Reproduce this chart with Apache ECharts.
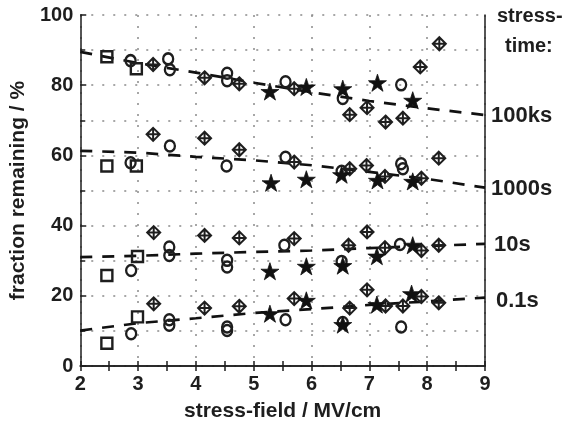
<!DOCTYPE html>
<html>
<head>
<meta charset="utf-8">
<script src="https://cdn.jsdelivr.net/npm/echarts@6/dist/echarts.min.js"></script>
<style>
html,body{margin:0;padding:0;background:#fff;}
#chart{width:562px;height:427px;}
</style>
</head>
<body>
<div id="chart"></div>
<script>
// ---- data ----
var xTicks = [2, 3, 4, 5, 6, 7, 8, 9];
var yTicks = [0, 20, 40, 60, 80, 100];
var xTitle = 'stress-field / MV/cm';
var yTitle = 'fraction remaining / %';
var timeLabels = ['100ks', '1000s', '10s', '0.1s'];

var squares = [[2.46,88.1],[2.97,84.7],[2.46,57.0],[2.97,57.0],[2.46,25.8],[2.99,31.2],[2.46,6.5],[2.99,14.0]];

var circles = [
  [2.87,87.0],[3.52,87.5],[3.55,84.4],[4.54,83.4],[4.54,81.3],[5.55,81.0],[6.54,76.2],[7.55,80.1],
  [2.87,57.9],[3.55,62.7],[4.53,57.0],[5.55,59.5],[6.52,55.5],[7.55,57.6],[7.58,56.2],
  [2.88,27.2],[3.54,33.9],[3.54,31.5],[4.54,30.1],[4.54,28.2],[5.53,34.4],[6.52,29.8],[7.53,34.6],
  [2.88,9.2],[3.54,13.2],[3.54,11.6],[4.54,11.1],[4.54,10.1],[5.55,13.2],[6.54,12.4],[7.55,11.1]
];

var diamonds = [
  [3.26,85.9],[4.15,82.1],[4.75,80.4],[5.70,79.0],[6.66,71.6],[6.96,73.6],[7.28,69.5],[7.58,70.6],[7.88,85.2],[8.21,91.8],
  [3.26,66.0],[4.15,64.9],[4.75,61.6],[5.70,58.1],[6.66,56.2],[6.95,57.1],[7.27,54.0],[7.90,53.5],[8.20,59.2],
  [3.27,38.0],[4.15,37.2],[4.75,36.5],[5.70,36.3],[6.64,34.4],[6.96,38.2],[7.27,33.7],[7.90,32.9],[8.20,34.4],
  [3.27,17.7],[4.15,16.5],[4.75,17.0],[5.70,19.2],[6.66,16.5],[6.96,21.7],[7.28,17.1],[7.58,17.1],[7.90,19.8],[8.20,18.0]
];

var stars = [
  [5.28,78.2],[5.91,79.5],[6.54,79.0],[7.14,80.7],[7.75,75.7],
  [5.30,52.2],[5.91,53.2],[6.52,54.5],[7.14,52.9],[7.75,52.6],
  [5.28,27.0],[5.91,28.4],[6.54,28.6],[7.13,31.3],[7.75,34.4],
  [5.28,14.9],[5.91,18.7],[6.54,11.8],[7.13,17.5],[7.73,20.6]
];

var fitX = [2, 3, 4, 5, 6, 7, 8, 9];
var fit100ks = [89.5, 86.3, 83.6, 80.7, 78.0, 75.5, 73.4, 71.5];
var fit1000s = [61.3, 60.8, 59.6, 58.6, 57.2, 55.3, 53.3, 50.8];
var fit10s   = [31.0, 31.4, 32.0, 32.5, 32.9, 33.6, 34.2, 34.8];
var fit01s   = [10.1, 12.2, 13.6, 15.1, 16.2, 17.4, 18.4, 19.5];

// ---- chart ----
var FONT = '"Liberation Sans", Arial, sans-serif';
var INK = '#1e1e1e';
var chart = echarts.init(document.getElementById('chart'), null, {renderer: 'canvas'});

function pairs(ys) { return fitX.map(function (x, i) { return [x, ys[i]]; }); }

var diamondPath = 'path://M0,-10 L10,0 L0,10 L-10,0 Z M0,-10 L0,10 M-10,0 L10,0';
var starPath = 'path://M0,-100 L22.45,-30.9 L95.1,-30.9 L36.3,11.8 L58.8,80.9 L0,38.2 L-58.8,80.9 L-36.3,11.8 L-95.1,-30.9 L-22.45,-30.9 Z';

var dotted = {type: [2, 9], color: '#8a8a8a', width: 1.5};
var tickStyle = {color: INK, width: 1.5};

function fitSeries(ys) {
  return {
    type: 'line', data: pairs(ys), symbol: 'none', clip: true, z: 3,
    lineStyle: {color: '#111', width: 2.7, type: [12, 10]}, silent: true
  };
}

var option = {
  animation: false,
  backgroundColor: '#fff',
  grid: {left: 73, right: 77, top: 15, bottom: 60, containLabel: false},
  xAxis: [{
    type: 'value', min: xTicks[0], max: xTicks[xTicks.length - 1], interval: 1, position: 'bottom',
    axisLine: {show: true, lineStyle: {color: INK, width: 1.5}},
    axisTick: {show: true, inside: true, length: 5, lineStyle: tickStyle},
    minorTick: {show: true, splitNumber: 2, length: 5, lineStyle: tickStyle},
    axisLabel: {fontSize: 20, fontWeight: 'bold', color: INK, fontFamily: FONT, margin: 8,
      formatter: function (v) { return xTicks.indexOf(v) >= 0 ? String(v) : ''; }},
    splitLine: {show: true, lineStyle: dotted},
    name: xTitle, nameLocation: 'middle', nameGap: 35,
    nameTextStyle: {fontSize: 21, fontWeight: 'bold', color: INK, fontFamily: FONT}
  }, {
    type: 'value', min: xTicks[0], max: xTicks[xTicks.length - 1], interval: 1, position: 'top',
    axisLine: {show: true, lineStyle: {color: INK, width: 1.5}},
    axisTick: {show: true, inside: true, length: 5, lineStyle: tickStyle},
    minorTick: {show: true, splitNumber: 2, length: 5, lineStyle: tickStyle},
    axisLabel: {show: false}, splitLine: {show: false}
  }],
  yAxis: [{
    type: 'value', min: yTicks[0], max: yTicks[yTicks.length - 1], interval: 20, position: 'left',
    axisLine: {show: true, lineStyle: {color: INK, width: 1.5}},
    axisTick: {show: true, inside: true, length: 6, lineStyle: tickStyle},
    minorTick: {show: true, splitNumber: 2, length: 5, lineStyle: tickStyle},
    axisLabel: {fontSize: 20, fontWeight: 'bold', color: INK, fontFamily: FONT, margin: 7,
      formatter: function (v) { return yTicks.indexOf(v) >= 0 ? String(v) : ''; }},
    splitLine: {show: true, lineStyle: dotted},
    minorSplitLine: {show: true, lineStyle: dotted},
    name: yTitle, nameLocation: 'middle', nameGap: 46,
    nameTextStyle: {fontSize: 21, fontWeight: 'bold', color: INK, fontFamily: FONT}
  }, {
    type: 'value', min: yTicks[0], max: yTicks[yTicks.length - 1], interval: 20, position: 'right',
    axisLine: {show: true, lineStyle: {color: INK, width: 1.5}},
    axisTick: {show: false}, axisLabel: {show: false}, splitLine: {show: false}
  }],
  series: [
    fitSeries(fit100ks), fitSeries(fit1000s), fitSeries(fit10s), fitSeries(fit01s),
    {type: 'scatter', data: squares, symbol: 'rect', symbolSize: 11, z: 4,
      itemStyle: {color: 'rgba(0,0,0,0)', borderColor: INK, borderWidth: 2.4, opacity: 1}},
    {type: 'scatter', data: circles, symbol: 'circle', symbolSize: [10, 11], z: 4,
      itemStyle: {color: 'rgba(0,0,0,0)', borderColor: INK, borderWidth: 2.4, opacity: 1}},
    {type: 'scatter', data: diamonds, symbol: diamondPath, symbolSize: 13, symbolKeepAspect: true, z: 4,
      itemStyle: {color: 'rgba(255,255,255,0)', borderColor: INK, borderWidth: 2, opacity: 1}},
    {type: 'scatter', data: stars, symbol: starPath, symbolSize: 18, symbolKeepAspect: true, z: 5,
      itemStyle: {color: '#111', borderColor: '#111', borderWidth: 0.8, opacity: 1}}
  ],
  graphic: [
    {type: 'text', left: 497, top: 6, style: {text: 'stress-', fontSize: 20, fontWeight: 'bold', fill: INK, fontFamily: FONT}},
    {type: 'text', left: 505, top: 36, style: {text: 'time:', fontSize: 20, fontWeight: 'bold', fill: INK, fontFamily: FONT}},
    {type: 'text', left: 491, top: 105, style: {text: timeLabels[0], fontSize: 22, fontWeight: 'bold', fill: INK, fontFamily: FONT}},
    {type: 'text', left: 491, top: 178, style: {text: timeLabels[1], fontSize: 22, fontWeight: 'bold', fill: INK, fontFamily: FONT}},
    {type: 'text', left: 494, top: 234, style: {text: timeLabels[2], fontSize: 22, fontWeight: 'bold', fill: INK, fontFamily: FONT}},
    {type: 'text', left: 496, top: 290, style: {text: timeLabels[3], fontSize: 22, fontWeight: 'bold', fill: INK, fontFamily: FONT}}
  ]
};
chart.setOption(option);
</script>
</body>
</html>
